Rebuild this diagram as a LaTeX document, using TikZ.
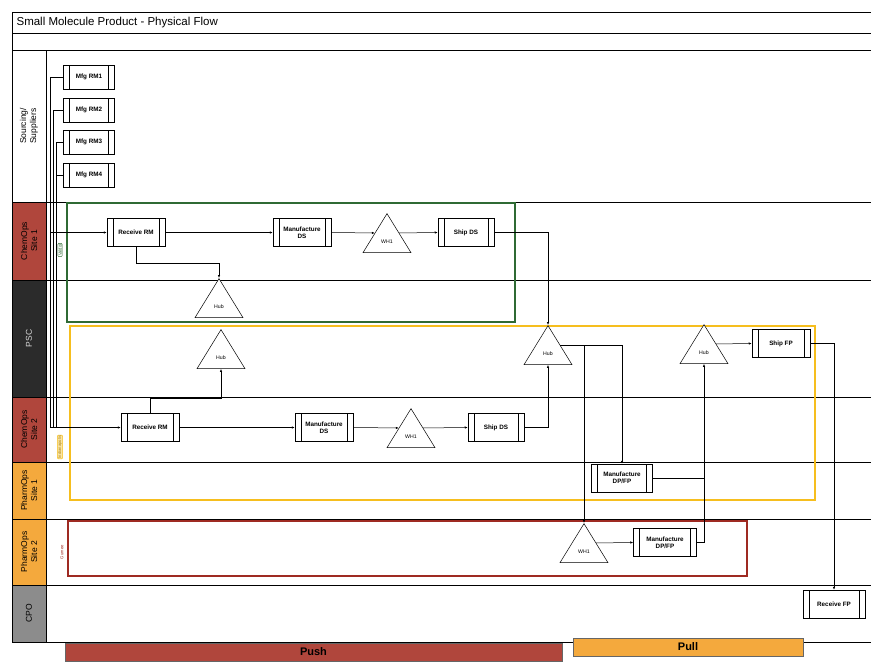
\documentclass[tikz,border=0pt]{standalone}
\usepackage{fontspec}
\setmainfont{Liberation Sans}
\usetikzlibrary{arrows.meta,positioning,shapes.geometric,calc}
\definecolor{chemred}{HTML}{B0463C}
\definecolor{pscgray}{HTML}{2B2B2B}
\definecolor{pharmorg}{HTML}{F4A93D}
\definecolor{cpogray}{HTML}{8C8C8C}
\definecolor{grnbox}{HTML}{2F6A34}
\definecolor{ylwbox}{HTML}{F6BE1E}
\definecolor{redbox}{HTML}{9E2A22}
\tikzset{
  proc/.style={draw, fill=white, minimum width=58pt, minimum height=28pt, inner sep=1pt, align=center,
    font=\fontsize{6.3}{7}\selectfont\bfseries,
    path picture={\draw ([xshift=6pt]path picture bounding box.north west) -- ([xshift=6pt]path picture bounding box.south west)
      ([xshift=-6pt]path picture bounding box.north east) -- ([xshift=-6pt]path picture bounding box.south east);}},
  sup/.style={proc, minimum width=51pt, minimum height=24pt},
  tri/.style={draw, fill=white, isosceles triangle, shape border rotate=90, isosceles triangle stretches,
    minimum height=39pt, minimum width=48pt, inner sep=0pt, anchor=apex, font=\fontsize{5.2}{6}\selectfont},
  lane/.style={draw, rotate=90, minimum height=34pt, inner sep=0pt, align=center, font=\fontsize{8.5}{10}\selectfont},
  tag/.style={rotate=90, draw, rounded corners=1pt, inner sep=0.7pt, font=\fontsize{4.2}{5}\selectfont},
  arr/.style={-{Latex[length=3pt,width=2.4pt]}},
  region/.style={line width=1.4pt},
  bar/.style={draw=black!60, minimum height=18pt, inner sep=0pt, font=\fontsize{11}{12}\selectfont\bfseries}
}
\begin{document}
\begin{tikzpicture}[x=1pt, y=-1pt, line width=0.5pt]
\useasboundingbox (0,0) rectangle (871,662);

\draw (12,12) -- (871,12) (12,33) -- (871,33);
\draw (12,12) -- (12,50);
\node[anchor=west, font=\fontsize{11.5}{12}\selectfont] (title) at (13,22.5) {Small Molecule Product - Physical Flow};

\node[lane, minimum width=152pt, fill=white] (src) at (29,126) {Sourcing/\\Suppliers};
\node[lane, minimum width=78pt, fill=chemred] (cs1) at (29,241) {ChemOps\\Site 1};
\node[lane, minimum width=117pt, fill=pscgray, text=white!85!black] (psc) at (29,338.5) {PSC};
\node[lane, minimum width=65pt, fill=chemred] (cs2) at (29,429.5) {ChemOps\\Site 2};
\node[lane, minimum width=57pt, fill=pharmorg] (ps1) at (29,490.5) {PharmOps\\Site 1};
\node[lane, minimum width=66pt, fill=pharmorg] (ps2) at (29,552) {PharmOps\\Site 2};
\node[lane, minimum width=57pt, fill=cpogray] (cpo) at (29,613.5) {CPO};
\foreach \y in {50,202,280,397,462,519,585,642}
  \draw (12,\y) -- (871,\y);

\draw[region, grnbox] (67,203) rectangle (515,322);
\draw[region, ylwbox] (70,326) rectangle (815,500);
\draw[region, redbox] (68,521) rectangle (747,576);
\node[tag, draw=grnbox, text=grnbox] (tagA) at (60,250) {Valdor};
\node[tag, draw=ylwbox, fill=ylwbox!40, text=ylwbox!70!black] (tagB) at (60,447) {Indianapolis};
\node[tag, draw=none, text=redbox] (tagC) at (62,552) {Gurnee};

\node[sup] (rm1) at (89,77) {Mfg RM1};
\node[sup] (rm2) at (89,110) {Mfg RM2};
\node[sup] (rm3) at (89,142) {Mfg RM3};
\node[sup] (rm4) at (89,175) {Mfg RM4};

\node[proc] (recv1) at (136,232.5) {Receive RM};
\node[proc] (mfgds1) at (302,232.5) {Manufacture\\DS};
\node[tri] (wh1a) at (387,213) {WH1};
\node[proc, minimum width=56pt] (shipds1) at (466,232.5) {Ship DS};
\node[tri] (hubA) at (219,278) {Hub};

\node[tri] (hubC) at (221,329) {Hub};
\node[tri] (hubB) at (548,325) {Hub};
\node[tri] (hubD) at (704,324) {Hub};
\node[proc] (shipfp) at (781,343.5) {Ship FP};

\node[proc] (recv2) at (150,427.5) {Receive RM};
\node[proc] (mfgds2) at (324,427.5) {Manufacture\\DS};
\node[tri] (wh1b) at (411,408) {WH1};
\node[proc, minimum width=56pt] (shipds2) at (496,427.5) {Ship DS};

\node[proc, minimum width=61pt] (mfgdp1) at (622,478) {Manufacture\\DP/FP};
\node[tri] (wh1c) at (584,523) {WH1};
\node[proc, minimum width=63pt] (mfgdp2) at (665,542.5) {Manufacture\\DP/FP};
\node[proc, minimum width=62pt] (recvfp) at (834,604) {Receive FP};

\coordinate (busA) at (50,0);
\coordinate (busB) at (53,0);
\coordinate (busC) at (56,0);
\draw (rm1.west) -| (busA |- recv2.west);
\draw (rm2.west) -| (busB |- recv2.west);
\draw (rm3.west) -| (busC |- recv2.west);
\draw (rm4.west) -| (busC |- rm4.west);
\draw[arr] (busA |- recv1.west) -- (recv1.west);
\draw[arr] (busA |- recv2.west) -- (recv2.west);

\draw[arr] (recv1.east) -- (mfgds1.west);
\draw[arr] (mfgds1.east) -- (wh1a.left side);
\draw[arr] (wh1a.right side) -- (shipds1.west);
\draw[arr] (recv1.south) -- ++(0,16) -| (hubA.apex);
\draw[arr] (shipds1.east) -| (hubB.apex);

\draw[arr] (recv2.east) -- (mfgds2.west);
\draw[arr] (mfgds2.east) -- (wh1b.left side);
\draw[arr] (wh1b.right side) -- (shipds2.west);
\draw[arr] (recv2.north) -- ++(0,-15) -| (hubC.lower side);
\draw[arr] (shipds2.east) -| (hubB.lower side);

\draw[arr] (hubB.right side) -| (mfgdp1.north);
\draw[arr] (hubB.right side) -| (wh1c.apex);
\draw[arr] (wh1c.right side) -- (mfgdp2.west);
\draw[arr] (mfgdp2.east) -| (hubD.lower side);
\draw (mfgdp1.east) -- (mfgdp1.east -| hubD.lower side);
\draw[arr] (hubD.right side) -- (shipfp.west);
\draw[arr] (shipfp.east) -| (recvfp.north);

\node[bar, fill=chemred, minimum width=497pt] (push) at (313.5,652) {Push};
\node[bar, fill=pharmorg, minimum width=230pt] (pull) at (688,647) {Pull};
\end{tikzpicture}
\end{document}
